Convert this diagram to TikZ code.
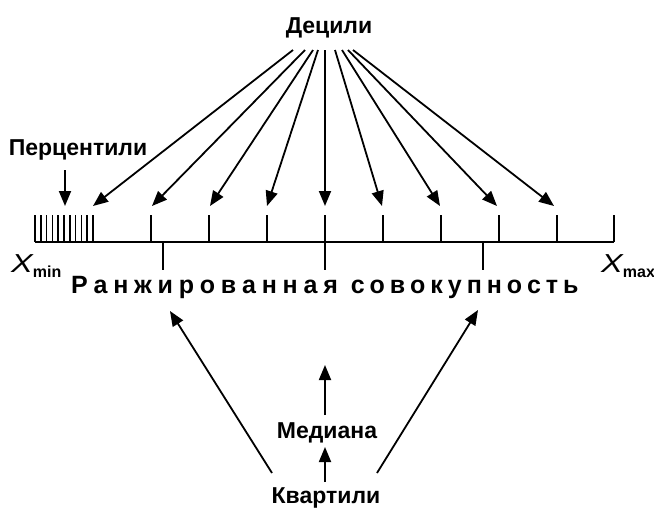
\documentclass[tikz,border=0pt]{standalone}
\usepackage{fontspec}
\setmainfont{Liberation Sans}
\usetikzlibrary{arrows.meta}
\newlength\wdnat
\newdimen\lsk
\makeatletter
\newcommand\spreadword[3]{\settowidth\wdnat{#3}\lsk=#1\relax\advance\lsk-\wdnat\divide\lsk #2\relax\@tfor\lsp@c:=#3\do{\lsp@c\kern\lsk}\unkern}
\makeatother
\begin{document}
\begin{tikzpicture}[x=1pt,y=-1pt,
  arr/.style={line width=1.8pt, -{Triangle[length=15pt,width=12pt]}},
  tck/.style={line width=1.6pt},
  lbl/.style={font=\fontsize{23}{23}\selectfont\bfseries, inner sep=0pt, text depth=0pt},
  big/.style={font=\fontsize{25}{25}\selectfont\bfseries, inner sep=0pt, text depth=0pt},
  xlab/.style={inner sep=0pt, text depth=0pt}]
\useasboundingbox[fill=white] (0,0) rectangle (654,507);
% axis
\draw[tck] (35,242) -- (614,242);
\foreach \i in {0,...,10} \draw[line width=1.5pt] (35+5.8*\i,215) -- (35+5.8*\i,242);
\foreach \x in {151,209,267,383,441,499,557,614} \draw[tck] (\x,215) -- (\x,242);
\draw[tck] (325,215) -- (325,270);
\foreach \x in {163,483} \draw[tck] (\x,242) -- (\x,270);
% labels
\node[lbl, anchor=base] (dec) at (329,33) {Децили};
\node[lbl, anchor=base] (per) at (78,155) {Перцентили};
\node[lbl, anchor=base] (med) at (327,438) {Медиана};
\node[lbl, anchor=base] (qua) at (326,503) {Квартили};
\node[big, anchor=base west] (rank) at (71,293) {\spreadword{266pt}{12}{Ранжированная}\hspace{13pt}\spreadword{227pt}{11}{совокупность}};
\node[xlab, anchor=base west] (xmin) at (11,272) {\fontsize{26}{26}\selectfont\itshape\scalebox{1.25}[1]{X}\upshape\bfseries\fontsize{16}{16}\selectfont\raisebox{-5pt}{min}};
\node[xlab, anchor=base west] (xmax) at (601,272) {\fontsize{26}{26}\selectfont\itshape\scalebox{1.25}[1]{X}\upshape\bfseries\fontsize{16}{16}\selectfont\raisebox{-5pt}{max}};
% decile tips
\coordinate (d1) at (93,206);
\coordinate (d2) at (152,206);
\coordinate (d3) at (210,206);
\coordinate (d4) at (267,206);
\coordinate (d5) at (325,206);
\coordinate (d6) at (382,206);
\coordinate (d7) at (440,206);
\coordinate (d8) at (497,206);
\coordinate (d9) at (554,206);
\draw[arr] ([xshift=-36pt,yshift=-17pt]dec.base) -- (d1);
\draw[arr] ([xshift=-24pt,yshift=-17pt]dec.base) -- (d2);
\draw[arr] ([xshift=-16pt,yshift=-17pt]dec.base) -- (d3);
\draw[arr] ([xshift=-11pt,yshift=-17pt]dec.base) -- (d4);
\draw[arr] ([xshift=-4pt,yshift=-17pt]dec.base) -- (d5);
\draw[arr] ([xshift=6pt,yshift=-17pt]dec.base) -- (d6);
\draw[arr] ([xshift=13pt,yshift=-17pt]dec.base) -- (d7);
\draw[arr] ([xshift=19pt,yshift=-17pt]dec.base) -- (d8);
\draw[arr] ([xshift=24pt,yshift=-17pt]dec.base) -- (d9);
% percentile arrow
\coordinate (ptip) at (65,206);
\draw[arr] ([xshift=-13pt,yshift=-15pt]per.base) -- (ptip);
% median / quartile arrows
\coordinate (mtip) at (325,365);
\coordinate (q1tip) at (170,311);
\coordinate (q3tip) at (478,310);
\draw[arr] ([xshift=-2pt,yshift=23pt]med.base) -- (mtip);
\draw[arr] ([xshift=-1pt,yshift=21pt]qua.base) -- ([xshift=-2pt,yshift=-9pt]med.base);
\draw[arr] ([xshift=-54pt,yshift=30pt]qua.base) -- (q1tip);
\draw[arr] ([xshift=51pt,yshift=30pt]qua.base) -- (q3tip);
\end{tikzpicture}
\end{document}
